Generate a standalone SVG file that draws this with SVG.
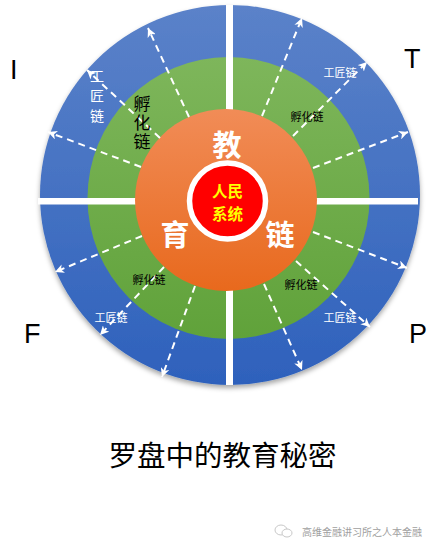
<svg xmlns="http://www.w3.org/2000/svg" width="435" height="551" viewBox="0 0 435 551">
  <defs>
    <linearGradient id="gBlue" x1="0" y1="0" x2="0" y2="1">
      <stop offset="0" stop-color="#5B82C9"/>
      <stop offset="1" stop-color="#2E61BC"/>
    </linearGradient>
    <linearGradient id="gGreen" x1="0" y1="0" x2="0" y2="1">
      <stop offset="0" stop-color="#7EB65B"/>
      <stop offset="1" stop-color="#60A23A"/>
    </linearGradient>
    <linearGradient id="gOrange" x1="0" y1="0" x2="0" y2="1">
      <stop offset="0" stop-color="#F18C57"/>
      <stop offset="1" stop-color="#E8691D"/>
    </linearGradient>
    <filter id="shadow" x="-10%" y="-10%" width="120%" height="125%">
      <feDropShadow dx="0" dy="3" stdDeviation="2.5" flood-color="#000" flood-opacity="0.35"/>
    </filter>
    <marker id="arrow" markerUnits="userSpaceOnUse" markerWidth="10" markerHeight="9" refX="9" refY="4.5" orient="auto">
      <path d="M0,0 L9,4.5 L0,9 L2.5,4.5 z" fill="#FFFFFF"/>
    </marker>
  </defs>
  <style>
    .cn { font-family: "Noto Sans CJK SC", "Noto Sans", sans-serif; }
    .lat { font-family: "Liberation Sans", Arial, sans-serif; font-size: 27px; fill: #000; }
    .dash { stroke: #FFFFFF; stroke-width: 2; stroke-dasharray: 7 5; fill: none; marker-end: url(#arrow); }
    .big { font-size: 29px; font-weight: bold; fill: #FFFFFF; text-anchor: middle; }
    .core { font-size: 15.5px; font-weight: bold; fill: #FFFF00; text-anchor: middle; }
    .small { font-size: 11px; text-anchor: middle; }
    .vert { writing-mode: vertical-rl; }
    .white { fill: #FFFFFF; }
    .black { fill: #000000; }
  </style>

  <rect x="0" y="0" width="435" height="551" fill="#FFFFFF"/>

  <g id="outer-ring">
    <circle cx="230" cy="195" r="190" fill="url(#gBlue)" filter="url(#shadow)"/>
  </g>
  <g id="middle-ring">
    <circle cx="228.5" cy="198" r="141" fill="url(#gGreen)"/>
  </g>
  <g id="cross-bars">
    <rect x="226" y="5" width="7" height="380" fill="#FFFFFF"/>
    <rect x="38" y="198" width="380" height="6.5" fill="#FFFFFF"/>
  </g>
  <g id="inner-circle">
    <circle cx="226" cy="200" r="91" fill="url(#gOrange)"/>
    <text class="cn big" x="227" y="156">教</text>
    <text class="cn big" x="175" y="246">育</text>
    <text class="cn big" x="280" y="246">链</text>
  </g>
  <g id="core">
    <circle cx="227.5" cy="201" r="38" fill="#FF0000" stroke="#FFFFFF" stroke-width="5.5"/>
    <text class="cn core" x="227.5" y="196.5">人民</text>
    <text class="cn core" x="227.5" y="219.5">系统</text>
  </g>

  <g id="connectors">
    <line class="dash" x1="189" y1="117" x2="148" y2="28"/>
    <line class="dash" x1="160" y1="138" x2="87" y2="70"/>
    <line class="dash" x1="141" y1="167" x2="48" y2="132"/>
    <line class="dash" x1="262" y1="116" x2="302" y2="18"/>
    <line class="dash" x1="293" y1="136" x2="367" y2="62"/>
    <line class="dash" x1="313" y1="168" x2="408" y2="132"/>
    <line class="dash" x1="142" y1="236" x2="55" y2="272"/>
    <line class="dash" x1="164" y1="267" x2="100" y2="335"/>
    <line class="dash" x1="195" y1="286" x2="162" y2="377"/>
    <line class="dash" x1="313" y1="232" x2="407" y2="268"/>
    <line class="dash" x1="296" y1="261" x2="370" y2="327"/>
    <line class="dash" x1="264" y1="284" x2="302" y2="370"/>
  </g>

  <g id="labels-ul">
    <text class="cn white vert" font-size="14" letter-spacing="6" x="97" y="69">工匠链</text>
    <text class="cn black vert" font-size="17" letter-spacing="2" x="142" y="95">孵化链</text>
  </g>
  <g id="labels-ur">
    <text class="cn small white" x="340" y="77">工匠链</text>
    <text class="cn small black" x="307" y="121">孵化链</text>
  </g>
  <g id="labels-ll">
    <text class="cn small black" x="149" y="284">孵化链</text>
    <text class="cn small white" x="111" y="322">工匠链</text>
  </g>
  <g id="labels-lr">
    <text class="cn small black" x="301" y="289">孵化链</text>
    <text class="cn small white" x="340" y="322">工匠链</text>
  </g>

  <g id="corner-letters">
    <text class="lat" x="10" y="79">I</text>
    <text class="lat" x="404" y="68">T</text>
    <text class="lat" x="24" y="343">F</text>
    <text class="lat" x="409" y="343">P</text>
  </g>

  <g id="title">
    <text class="cn" x="222.5" y="466" font-size="28.5" text-anchor="middle" fill="#000000">罗盘中的教育秘密</text>
  </g>

  <g id="watermark">
    <ellipse cx="281" cy="530" rx="6" ry="5" fill="none" stroke="#C8C8C8" stroke-width="1"/>
    <ellipse cx="287" cy="533" rx="5" ry="4" fill="#FFFFFF" stroke="#C8C8C8" stroke-width="1"/>
    <text class="cn" x="302" y="535.5" font-size="10" fill="#A0A0A0">高维金融讲习所之人本金融</text>
  </g>
</svg>
